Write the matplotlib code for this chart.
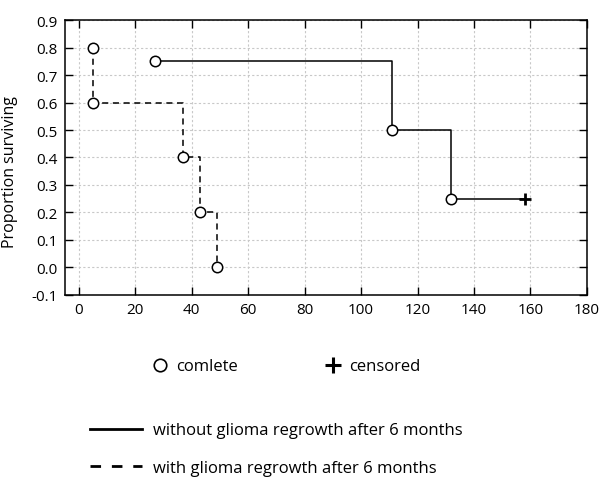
import matplotlib.pyplot as plt
from matplotlib.lines import Line2D

plt.rcParams['font.family'] = ['Open Sans', 'DejaVu Sans']

# group without glioma regrowth after 6 months (solid)
no_regrowth_t = [27, 111, 132]
no_regrowth_s = [0.75, 0.50, 0.25]
no_regrowth_censor_t = [158]
no_regrowth_censor_s = [0.25]

# group with glioma regrowth after 6 months (dashed)
regrowth_t = [5, 5, 37, 43, 49]
regrowth_s = [0.8, 0.6, 0.4, 0.2, 0.0]

xticks = [0, 20, 40, 60, 80, 100, 120, 140, 160, 180]
yticks = [-0.1, 0.0, 0.1, 0.2, 0.3, 0.4, 0.5, 0.6, 0.7, 0.8, 0.9]

fig = plt.figure(figsize=(6, 4.81), dpi=100)
ax = fig.add_axes([0.108, 0.385, 0.870, 0.571])

# step lines
ax.step(no_regrowth_t + no_regrowth_censor_t, no_regrowth_s + no_regrowth_censor_s,
        where='post', color='black', lw=1.1, zorder=2)
ax.step(regrowth_t, regrowth_s, where='post', color='black', lw=1.1,
        linestyle=(0, (4, 3)), zorder=2)

# events
ax.plot(no_regrowth_t, no_regrowth_s, 'o', ms=7.5, mfc='white', mec='black', mew=1.1, zorder=3)
ax.plot(regrowth_t, regrowth_s, 'o', ms=7.5, mfc='white', mec='black', mew=1.1, zorder=3)
ax.plot(no_regrowth_censor_t, no_regrowth_censor_s, '+', ms=9, mew=2, color='black', zorder=3)

ax.set_xlim(-5, 180)
ax.set_ylim(-0.1, 0.9)
ax.set_xticks(xticks)
ax.set_yticks(yticks)
ax.set_yticklabels(['%.1f' % v for v in yticks])
ax.tick_params(direction='in', top=True, right=True, length=6, width=1,
               labelsize=11, pad=5)
ax.grid(True, color='#c8c8c8', linestyle=(0, (2, 2)), lw=0.8)
for sp in ax.spines.values():
    sp.set_linewidth(1.1)
ax.set_ylabel('Proportion surviving', fontsize=11.5)
ax.yaxis.set_label_coords(-0.09, 0.45)

marker_handles = [
    Line2D([], [], marker='o', ls='none', ms=9, mfc='white', mec='black', mew=1.2),
    Line2D([], [], marker='+', ls='none', ms=12, mew=2.2, color='black'),
]
fig.legend(marker_handles, ['comlete', 'censored'], loc='center left',
           bbox_to_anchor=(0.225, 0.236), ncol=2, frameon=False,
           fontsize=12, handletextpad=0.35, columnspacing=5.15,
           handlelength=1.2)

line_handles = [
    Line2D([], [], color='black', lw=2),
    Line2D([], [], color='black', lw=2, linestyle=(0, (3.8, 3.9))),
]
fig.legend(line_handles, ['without glioma regrowth after 6 months',
                          'with glioma regrowth after 6 months'],
           loc='center left', bbox_to_anchor=(0.125, 0.064), frameon=False,
           fontsize=12, handlelength=3.1, handletextpad=0.7, labelspacing=1.3)

fig.savefig('out.png', dpi=100)
